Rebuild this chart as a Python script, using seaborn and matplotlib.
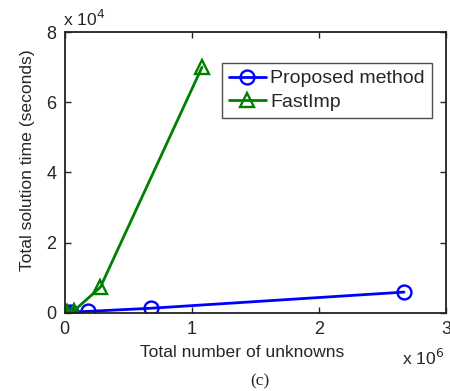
import pandas as pd
import seaborn as sns
from matplotlib import pyplot as plt
from matplotlib.ticker import FuncFormatter

# values
proposed_n = [0.005e6, 0.02e6, 0.05e6, 0.18e6, 0.68e6, 2.67e6]
proposed_t = [50, 100, 200, 400, 1300, 5900]
fastimp_n = [0.005e6, 0.02e6, 0.07e6, 0.28e6, 1.08e6]
fastimp_t = [50, 150, 500, 7300, 70000]

df = pd.concat([
    pd.DataFrame({'n': proposed_n, 't': proposed_t, 'method': 'Proposed method'}),
    pd.DataFrame({'n': fastimp_n, 't': fastimp_t, 'method': 'FastImp'}),
])

sns.set_style('white')
plt.rcParams['font.family'] = ['Liberation Sans', 'DejaVu Sans']

fig = plt.figure(figsize=(4.5, 3.91), dpi=100)
ax = fig.add_axes([0.144, 0.2, 0.847, 0.718])

sns.lineplot(data=df, x='n', y='t', hue='method', style='method',
             palette={'Proposed method': '#0000ff', 'FastImp': '#008000'},
             markers={'Proposed method': 'o', 'FastImp': '^'}, dashes=False,
             markersize=10, markerfacecolor='none', markeredgewidth=1.7,
             linewidth=2, sort=False, ax=ax)
for line in ax.lines:
    line.set_markeredgecolor(line.get_color())
    line.set_markerfacecolor('none')

ax.set_xlim(0, 3e6)
ax.set_ylim(0, 8e4)
ax.set_xticks([0, 1e6, 2e6, 3e6])
ax.set_yticks([0, 2e4, 4e4, 6e4, 8e4])
ax.xaxis.set_major_formatter(FuncFormatter(lambda v, p: f'{v / 1e6:g}'))
ax.yaxis.set_major_formatter(FuncFormatter(lambda v, p: f'{v / 1e4:g}'))
ax.tick_params(labelsize=13, direction='in', length=4, width=1, top=True, right=True,
               bottom=True, left=True, pad=6)
for s in ax.spines.values():
    s.set_color('#222222')
    s.set_linewidth(1.3)

ax.set_xlabel('Total number of unknowns', fontsize=12.6, labelpad=5)
ax.xaxis.set_label_coords(0.465, -0.115, transform=ax.transAxes)
ax.xaxis.label.set_va('top')
ax.set_ylabel('Total solution time (seconds)', fontsize=12.6)
ax.yaxis.set_label_coords(-0.079, 0.544, transform=ax.transAxes)
ax.text(-0.005, 1.01, r'x 10$^4$', transform=ax.transAxes, fontsize=12.6, ha='left', va='bottom')
ax.text(0.885, -0.125, r'x 10$^6$', transform=ax.transAxes, fontsize=12.6, ha='left', va='top')
fig.text(0.578, 0.015, '(c)', family='Liberation Serif', fontsize=12.6, ha='center')

leg = ax.legend(loc='upper right', bbox_to_anchor=(0.963, 0.89), fontsize=14,
                frameon=True, fancybox=False, edgecolor='#222222', handlelength=1.9,
                handletextpad=0.25, borderpad=0.35, labelspacing=0.3, borderaxespad=0)
leg.get_frame().set_linewidth(1)

fig.savefig('out.png', dpi=100)
